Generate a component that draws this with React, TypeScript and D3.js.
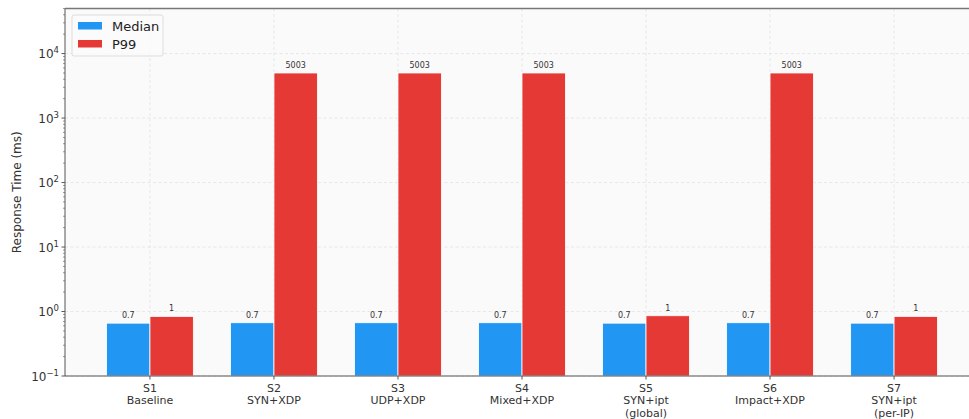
import { useEffect, useRef } from 'react';
import * as d3 from 'd3';

// chart data
const categories = ['S1', 'S2', 'S3', 'S4', 'S5', 'S6', 'S7'];
const subLabels = [['Baseline'], ['SYN+XDP'], ['UDP+XDP'], ['Mixed+XDP'], ['SYN+ipt', '(global)'], ['Impact+XDP'], ['SYN+ipt', '(per-IP)']];
const medianValues = [0.66, 0.67, 0.67, 0.67, 0.66, 0.67, 0.66];
const p99Values = [0.84, 5003, 5003, 5003, 0.86, 5003, 0.84];
const medianLabels = ['0.7', '0.7', '0.7', '0.7', '0.7', '0.7', '0.7'];
const p99Labels = ['1', '5003', '5003', '5003', '1', '5003', '1'];
const yTickExps = [-1, 0, 1, 2, 3, 4];
const seriesNames = ['Median', 'P99'];

const W = 969;
const H = 419;
const BLUE = '#2196F3';
const RED = '#E53935';
const FONT = 'DejaVu Sans, sans-serif';

const App = () => {
    const ref = useRef<SVGSVGElement | null>(null);

    useEffect(() => {
        const svg = d3.select(ref.current);
        svg.selectAll('*').remove();

        const left = 65, top = 8.5, bottom = 376;
        const x = d3.scaleLinear().domain([-0.685, 6.685]).range([left, 979]);
        const y = d3.scaleLog().domain([0.1, 50030]).range([bottom, top]);
        const bw = 0.35;

        // plot background
        svg.append('rect').attr('x', left).attr('y', top).attr('width', W - left).attr('height', bottom - top).attr('fill', '#fafafa');

        // grid
        const grid = svg.append('g').attr('stroke', '#e2e2e2').attr('stroke-width', 0.8).attr('stroke-dasharray', '3,2.5');
        yTickExps.forEach(e => {
            grid.append('line').attr('x1', left).attr('x2', W).attr('y1', y(Math.pow(10, e))).attr('y2', y(Math.pow(10, e)));
        });
        categories.forEach((_, i) => {
            grid.append('line').attr('x1', x(i)).attr('x2', x(i)).attr('y1', top).attr('y2', bottom);
        });

        // bars
        const bars = svg.append('g').attr('stroke', '#fff').attr('stroke-width', 0.8);
        categories.forEach((_, i) => {
            bars.append('rect')
                .attr('x', x(i - bw)).attr('width', x(i) - x(i - bw))
                .attr('y', y(medianValues[i])).attr('height', bottom - y(medianValues[i]))
                .attr('fill', BLUE);
            bars.append('rect')
                .attr('x', x(i)).attr('width', x(i + bw) - x(i))
                .attr('y', y(p99Values[i])).attr('height', bottom - y(p99Values[i]))
                .attr('fill', RED);
        });

        // bar value labels
        const lab = svg.append('g').attr('font-family', FONT).attr('font-size', 8).attr('fill', '#333').attr('text-anchor', 'middle');
        categories.forEach((_, i) => {
            lab.append('text').attr('x', x(i - bw / 2)).attr('y', y(medianValues[i]) - 5).text(medianLabels[i]);
            lab.append('text').attr('x', x(i + bw / 2)).attr('y', y(p99Values[i]) - 5).text(p99Labels[i]);
        });

        // spines
        svg.append('line').attr('x1', left).attr('x2', left).attr('y1', top).attr('y2', bottom).attr('stroke', '#555').attr('stroke-width', 1);
        svg.append('line').attr('x1', left).attr('x2', W).attr('y1', bottom).attr('y2', bottom).attr('stroke', '#555').attr('stroke-width', 1);
        svg.append('line').attr('x1', left).attr('x2', W).attr('y1', top).attr('y2', top).attr('stroke', '#777').attr('stroke-width', 1.5);

        // y ticks
        const yAx = svg.append('g').attr('font-family', FONT).attr('fill', '#333');
        yTickExps.forEach(e => {
            const yy = y(Math.pow(10, e));
            yAx.append('line').attr('x1', left - 3.5).attr('x2', left).attr('y1', yy).attr('y2', yy).attr('stroke', '#555');
            const t = yAx.append('text').attr('x', left - 6).attr('y', yy + 4.5).attr('text-anchor', 'end').attr('font-size', 12);
            t.append('tspan').text('10');
            t.append('tspan').attr('dy', -5).attr('font-size', 8.5).text(e < 0 ? '\u2212' + Math.abs(e) : String(e));
            if (e < 4) {
                for (let m = 2; m <= 9; m++) {
                    const ym = y(m * Math.pow(10, e));
                    yAx.append('line').attr('x1', left - 2).attr('x2', left).attr('y1', ym).attr('y2', ym).attr('stroke', '#555').attr('stroke-width', 0.6);
                }
            }
        });
        for (let m = 2; m <= 5; m++) {
            const ym = y(m * 1e4);
            yAx.append('line').attr('x1', left - 2).attr('x2', left).attr('y1', ym).attr('y2', ym).attr('stroke', '#555').attr('stroke-width', 0.6);
        }

        svg.append('text')
            .attr('transform', `translate(21,${(top + bottom) / 2}) rotate(-90)`)
            .attr('text-anchor', 'middle').attr('font-family', FONT).attr('font-size', 12).attr('fill', '#333')
            .text('Response Time (ms)');

        // x ticks
        const xAx = svg.append('g').attr('font-family', FONT).attr('font-size', 11).attr('fill', '#333').attr('text-anchor', 'middle');
        categories.forEach((c, i) => {
            xAx.append('line').attr('x1', x(i)).attr('x2', x(i)).attr('y1', bottom).attr('y2', bottom + 3.5).attr('stroke', '#555');
            xAx.append('text').attr('x', x(i)).attr('y', 392).text(c);
            subLabels[i].forEach((s, k) => {
                xAx.append('text').attr('x', x(i)).attr('y', 404 + k * 12.5).text(s);
            });
        });

        // legend
        const lg = svg.append('g').attr('font-family', FONT);
        lg.append('rect').attr('x', 72).attr('y', 15).attr('width', 91).attr('height', 41).attr('rx', 2)
            .attr('fill', '#fafafa').attr('fill-opacity', 0.85).attr('stroke', '#ddd');
        [BLUE, RED].forEach((col, k) => {
            lg.append('rect').attr('x', 78).attr('y', 22 + k * 18).attr('width', 24).attr('height', 7.5).attr('fill', col);
            lg.append('text').attr('x', 112).attr('y', 30.5 + k * 18).attr('font-size', 13).attr('fill', '#222').text(seriesNames[k]);
        });
    }, []);

    return (
        <div style={{ position: 'absolute', left: 0, top: 0 }}>
            <svg ref={ref} width={W} height={H} style={{ display: 'block', background: '#fff' }}></svg>
        </div>
    );
};

export default App;
